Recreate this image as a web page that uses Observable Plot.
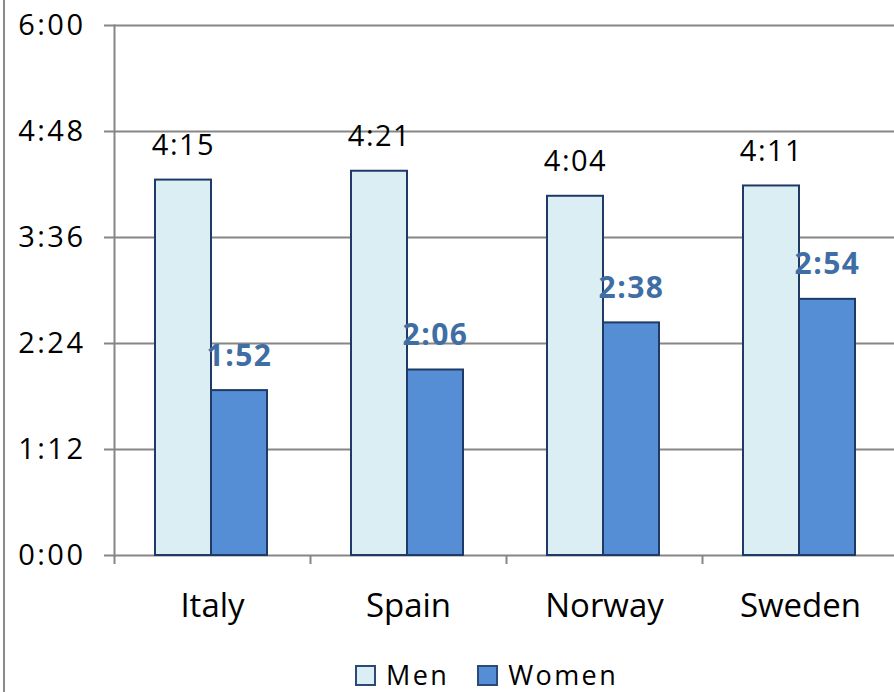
<!DOCTYPE html>
<html>
<head>
<meta charset="utf-8">
<script src="https://cdn.jsdelivr.net/npm/d3@7"></script>
<script src="https://cdn.jsdelivr.net/npm/@observablehq/plot@0.6"></script>
<style>
  html, body { margin: 0; padding: 0; background: #fff; }
  #chart { position: relative; width: 894px; height: 692px; overflow: hidden; font-family: "Open Sans", sans-serif; }
  #frame-left { position: absolute; left: 3px; top: 0; width: 2px; height: 692px; background: #8a8a8a; }
  #legend { position: absolute; top: 662px; left: 355px; display: flex; align-items: center; font-size: 27px; letter-spacing: 2.4px; color: #000; line-height: 26px; height: 26px; }
  #legend .sw { display: inline-block; width: 17px; height: 17px; border: 2px solid #2c4a78; margin-right: 10px; }
  #legend .item { display: flex; align-items: center; margin-right: 28px; height: 26px; }
</style>
</head>
<body>
<div id="chart"><div id="frame-left"></div></div>
<script>
// Average daily time spent on housework, minutes per day
const countries = ["Italy", "Spain", "Norway", "Sweden"];
const menMinutes = [255, 261, 244, 251];
const womenMinutes = [112, 126, 158, 174];
const yTicks = [0, 72, 144, 216, 288, 360];
const seriesNames = ["Men", "Women"];
const seriesFill = ["#dbeef4", "#558ed5"];

const rows = countries.map((country, i) => ({country, men: menMinutes[i], women: womenMinutes[i]}));
const hm = (m) => `${Math.floor(m / 60)}:${String(m % 60).padStart(2, "0")}`;

const gray = "#868686";
const barStroke = "#1f3a66";

const svg = Plot.plot({
  width: 894,
  height: 640,
  marginLeft: 114,
  marginRight: -4,
  marginTop: 25,
  marginBottom: 85,
  style: {fontFamily: "'Open Sans', sans-serif", background: "transparent", color: "#000"},
  x: {type: "band", domain: countries, padding: 0, label: null},
  y: {domain: [0, 360], label: null},
  marks: [
    Plot.gridY(yTicks, {stroke: gray, strokeWidth: 2, strokeOpacity: 1}),
    Plot.frame({anchor: "left", stroke: gray, strokeWidth: 2}),
    Plot.ruleX(countries, {x: (d) => d, dx: -98, y1: 0, y2: 0, insetTop: 9, stroke: gray, strokeWidth: 2}),
    Plot.axisY(yTicks, {tickSize: 10, tickPadding: 19, tickFormat: hm, fontSize: 29, stroke: gray, strokeWidth: 2, fill: "#000", label: null}),
    Plot.axisX({tickSize: 0, tickPadding: 38, fontSize: 33, fill: "#000", label: null}),
    Plot.barY(rows, {x: "country", y: "men", fill: seriesFill[0], stroke: barStroke, strokeWidth: 2, insetLeft: 41, insetRight: 99}),
    Plot.barY(rows, {x: "country", y: "women", fill: seriesFill[1], stroke: barStroke, strokeWidth: 2, insetLeft: 97, insetRight: 43}),
    Plot.text(rows, {x: "country", y: "men", text: (d) => hm(d.men), dx: -29, dy: -25, lineAnchor: "bottom", fontSize: 29, fill: "#000"}),
    Plot.text(rows, {x: "country", y: "women", text: (d) => hm(d.women), dx: 27, dy: -25, lineAnchor: "bottom", fontSize: 30, fontWeight: "bold", fill: "#3f6ea5"})
  ]
});

d3.select(svg).selectAll("[aria-label='y-axis tick label'] text").style("letter-spacing", "2.5px");
d3.select(svg).selectAll("[aria-label='text'] text").style("letter-spacing", "1.5px");
svg.style.position = "absolute";
svg.style.left = "0";
svg.style.top = "0";

const chart = document.getElementById("chart");
chart.appendChild(svg);

const legend = document.createElement("div");
legend.id = "legend";
seriesNames.forEach((name, i) => {
  const item = document.createElement("span");
  item.className = "item";
  const sw = document.createElement("span");
  sw.className = "sw";
  sw.style.background = seriesFill[i];
  item.appendChild(sw);
  item.appendChild(document.createTextNode(name));
  legend.appendChild(item);
});
chart.appendChild(legend);
</script>
</body>
</html>
